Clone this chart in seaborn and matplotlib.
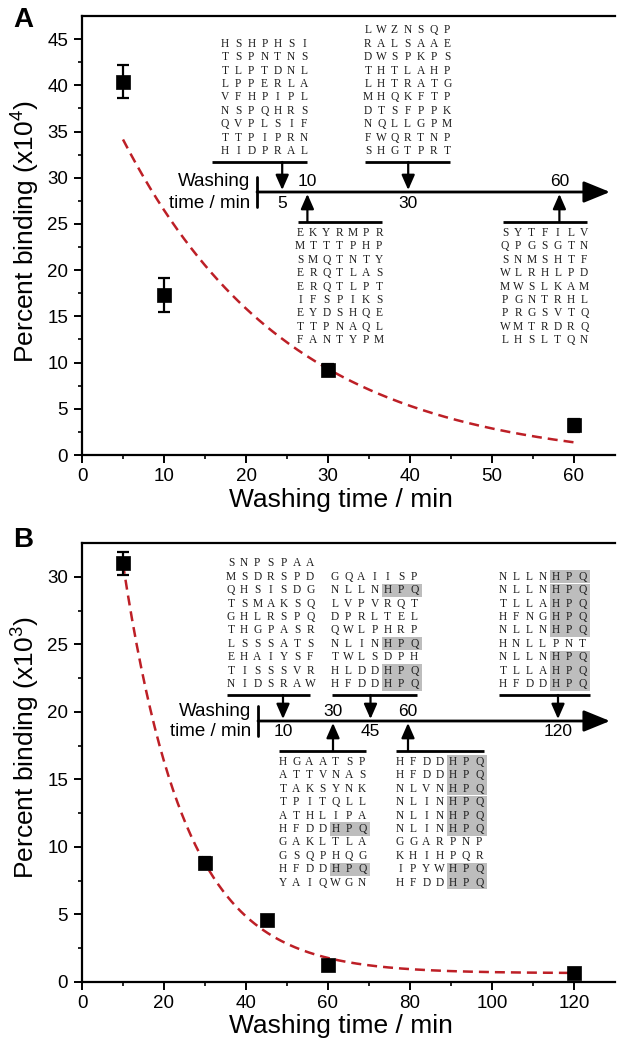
import numpy as np
import pandas as pd
import matplotlib
matplotlib.use("Agg")
import matplotlib.pyplot as plt
import seaborn as sns
from matplotlib.patches import Rectangle

# ---------------- data ----------------
a_time = [5, 10, 30, 60]
a_binding = [40.4, 17.3, 9.2, 3.2]
a_error = [1.8, 1.8, 0.6, 0.7]
a_fit = dict(y0=-1.0, amp=44.9, tau=20.4)

b_time = [10, 30, 45, 60, 120]
b_binding = [31.0, 8.8, 4.6, 1.25, 0.7]
b_error = [0.85, 0.45, 0.3, 0.3, 0.3]
b_fit = dict(y0=0.65, amp=58.5, tau=15.2)

a_seq_5 = ["HSHPHSI", "TSPNTNS", "TLPTDNL", "LPPERLA", "VFHPIPL",
           "NSPQHRS", "QVPLSIF", "TTPIPRN", "HIDPRAL"]
a_seq_10 = ["EKYRMPR", "MTTTPHP", "SMQTNTY", "ERQTLAS", "ERQTLPT",
            "IFSPIKS", "EYDSHQE", "TTPNAQL", "FANTYPM"]
a_seq_30 = ["LWZNSQP", "RALSAAE", "DWSPKPS", "THTLAHP", "LHTRATG",
            "MHQKFTP", "DTSFPPK", "NQLLGPM", "FWQRTNP", "SHGTPRT"]
a_seq_60 = ["SYTFILV", "QPGSGTN", "SNMSHTF", "WLRHLPD", "MWSLKAM",
            "PGNTRHL", "PRGSVTQ", "WMTRDRQ", "LHSLTQN"]

b_seq_10 = ["SNPSPAA", "MSDRSPD", "QHSISDG", "TSMAKSQ", "GHLRSPQ",
            "THGPASR", "LSSSATS", "EHAIYSF", "TISSSVR", "NIDSRAW"]
b_seq_30 = ["HGAATSP", "ATTVNAS", "TAKSYNK", "TPITQLL", "ATHLIPA",
            "HFDDHPQ", "GAKLTLA", "GSQPHQG", "HFDDHPQ", "YAIQWGN"]
b_seq_45 = ["GQAIISP", "NLLNHPQ", "LVPVRQT", "DPRLTEL", "QWLPHRP",
            "NLINHPQ", "TWLSDPH", "HLDDHPQ", "HFDDHPQ"]
b_seq_60 = ["HFDDHPQ", "HFDDHPQ", "NLVNHPQ", "NLINHPQ", "NLINHPQ",
            "NLINHPQ", "GGARPNP", "KHIHPQR", "IPYWHPQ", "HFDDHPQ"]
b_seq_120 = ["NLLNHPQ", "NLLNHPQ", "TLLAHPQ", "HFNGHPQ", "NLLNHPQ",
             "HNLLPNT", "NLLNHPQ", "TLLAHPQ", "HFDDHPQ"]

motif = "HPQ"

# ---------------- style ----------------
sns.set_theme(style="ticks")
plt.rcParams["font.family"] = ["Liberation Sans", "DejaVu Sans"]
plt.rcParams["mathtext.fontset"] = "custom"
plt.rcParams["mathtext.rm"] = "Liberation Sans"
plt.rcParams["mathtext.it"] = "Liberation Sans:italic"
plt.rcParams["mathtext.bf"] = "Liberation Sans:bold"
plt.rcParams["text.color"] = "black"
plt.rcParams["axes.labelcolor"] = "black"
plt.rcParams["xtick.color"] = "black"
plt.rcParams["ytick.color"] = "black"

W, H = 620, 1044
fig = plt.figure(figsize=(W / 100, H / 100), dpi=100)
fig.patch.set_facecolor("white")

FIT_COLOR = "#bd1f26"


def px_axes(left, top, right, bottom, **kw):
    return fig.add_axes([left / W, 1 - bottom / H, (right - left) / W, (bottom - top) / H], **kw)


def style_axes(ax, xlim, ylim, xmajor, xminor, ymajor, yminor):
    ax.set_xlim(*xlim)
    ax.set_ylim(*ylim)
    ax.set_xticks(xmajor)
    ax.set_xticks(xminor, minor=True)
    ax.set_yticks(ymajor)
    ax.set_yticks(yminor, minor=True)
    for side in ["left", "bottom", "top"]:
        ax.spines[side].set_linewidth(1.6)
        ax.spines[side].set_color("black")
    ax.spines["right"].set_visible(False)
    ax.tick_params(which="major", direction="out", length=5.5, width=1.4,
                   labelsize=13.5, color="black", labelcolor="black")
    ax.tick_params(which="minor", direction="out", length=3.2, width=1.2, color="black")
    ax.tick_params(axis="y", pad=4.5)
    ax.tick_params(axis="x", pad=4)
    ax.tick_params(top=False, right=False, which="both")
    ax.set_facecolor("white")
    ax.grid(False)


def draw_panel(ax, time, binding, error, fit):
    df = pd.DataFrame({"time": time, "binding": binding})
    t = np.linspace(min(time), max(time), 200)
    curve = pd.DataFrame({"time": t, "binding": fit["y0"] + fit["amp"] * np.exp(-t / fit["tau"])})
    sns.lineplot(data=curve, x="time", y="binding", ax=ax, color=FIT_COLOR,
                 lw=1.8, zorder=2)
    ax.lines[-1].set_dashes((4, 2.4))
    ax.errorbar(time, binding, yerr=error, fmt="none", ecolor="black",
                elinewidth=1.6, capsize=4.2, capthick=1.6, zorder=3)
    sns.scatterplot(data=df, x="time", y="binding", ax=ax, marker="s", s=105,
                    color="black", edgecolor="black", linewidth=0.5, zorder=4)
    ax.set_xlabel("")
    ax.set_ylabel("")


# Panel A
axA = px_axes(82, 16, 615, 455)
style_axes(axA, (0, 65), (0, 47.5), range(0, 61, 10), [5, 15, 25, 35, 45, 55],
           range(0, 46, 5), np.arange(2.5, 47, 5))
draw_panel(axA, a_time, a_binding, a_error, a_fit)

# Panel B
axB = px_axes(82, 543, 615, 982)
style_axes(axB, (0, 130), (0, 32.5), range(0, 121, 20), [10, 30, 50, 70, 90, 110],
           range(0, 31, 5), np.arange(2.5, 32, 5))
draw_panel(axB, b_time, b_binding, b_error, b_fit)

# ---------------- annotation layer in pixel space ----------------
ov = fig.add_axes([0, 0, 1, 1], zorder=10)
ov.set_xlim(0, W)
ov.set_ylim(H, 0)
ov.axis("off")
ov.patch.set_visible(False)

LABEL_FS = 19
fig.text(26 / W, 1 - 232 / H, "Percent binding (x10$^4$)", rotation=90,
         ha="center", va="center", fontsize=LABEL_FS)
fig.text(26 / W, 1 - 748 / H, "Percent binding (x10$^3$)", rotation=90,
         ha="center", va="center", fontsize=LABEL_FS)
fig.text(341 / W, 1 - 500 / H, "Washing time / min", ha="center", va="center", fontsize=LABEL_FS)
fig.text(341 / W, 1 - 1026 / H, "Washing time / min", ha="center", va="center", fontsize=LABEL_FS)
ov.text(23, 20, "A", ha="center", va="center", fontsize=20, fontweight="bold")
ov.text(23, 540, "B", ha="center", va="center", fontsize=20, fontweight="bold")

COL = 13.2
ROW = 13.4
SEQ_FONT = dict(family=["Liberation Serif", "DejaVu Serif"], fontsize=8.3, color="#1e1e1e")


def seq_block(rows, col0, under_x, under_y, side):
    n = len(rows)
    if side == "above":
        ys = [under_y - 11 - (n - 1 - i) * ROW for i in range(n)]
    else:
        ys = [under_y + 11 + i * ROW for i in range(n)]
    for y, row in zip(ys, rows):
        if row.endswith(motif):
            x0 = col0 + (len(row) - len(motif)) * COL - COL / 2 + 0.5
            ov.add_patch(Rectangle((x0, y - ROW / 2), len(motif) * COL + 1, ROW,
                                   facecolor="#bdbdbd", edgecolor="none", zorder=1))
        for j, ch in enumerate(row):
            ov.text(col0 + j * COL, y, ch, ha="center", va="center", zorder=2, **SEQ_FONT)
    ov.plot(under_x, [under_y, under_y], color="black", lw=2.0, solid_capstyle="butt", zorder=3)


def small_arrow(x, y_from, y_to):
    ov.annotate("", xy=(x, y_to), xytext=(x, y_from),
                arrowprops=dict(arrowstyle="-|>,head_length=0.75,head_width=0.33",
                                color="black", lw=1.6, shrinkA=0, shrinkB=0), zorder=4)


def timeline(line_y, origin, scale, end_x, up_y, low_y, times_down, times_up):
    ov.annotate("", xy=(end_x, line_y), xytext=(origin, line_y),
                arrowprops=dict(arrowstyle="-|>,head_length=1.35,head_width=0.55",
                                color="black", lw=2.0, shrinkA=0, shrinkB=0), zorder=4)
    ov.plot([origin, origin], [line_y - 15, line_y + 15], color="black", lw=2.0, zorder=4)
    ov.text(origin - 7, line_y - 10, "Washing", ha="right", va="center", fontsize=13.5)
    ov.text(origin - 7, line_y + 11, "time / min", ha="right", va="center", fontsize=13.5)
    for t in times_down:
        x = origin + scale * t
        small_arrow(x, up_y, line_y - 2)
        ov.text(x, line_y + 11, str(t), ha="center", va="center", fontsize=12.5)
    for t in times_up:
        x = origin + scale * t
        small_arrow(x, low_y, line_y + 2)
        ov.text(x, line_y - 10, str(t), ha="center", va="center", fontsize=12.5)


# Panel A timeline and sequences
timeline(192, 257, 5.04, 610, 162, 222, [5, 30], [10, 60])
seq_block(a_seq_5, 225, [212, 307], 162, "above")
seq_block(a_seq_30, 368, [365, 450], 162, "above")
seq_block(a_seq_10, 300, [298, 382], 222, "below")
seq_block(a_seq_60, 505, [503, 587], 222, "below")

# Panel B timeline and sequences
timeline(721, 258, 2.5, 610, 695, 751, [10, 45, 120], [30, 60])
seq_block(b_seq_10, 231, [227, 310], 695, "above")
seq_block(b_seq_45, 335, [332, 417], 695, "above")
seq_block(b_seq_120, 503, [499, 590], 695, "above")
seq_block(b_seq_30, 283, [279, 366], 751, "below")
seq_block(b_seq_60, 400, [396, 484], 751, "below")

fig.savefig("out.png", dpi=100, facecolor="white")
